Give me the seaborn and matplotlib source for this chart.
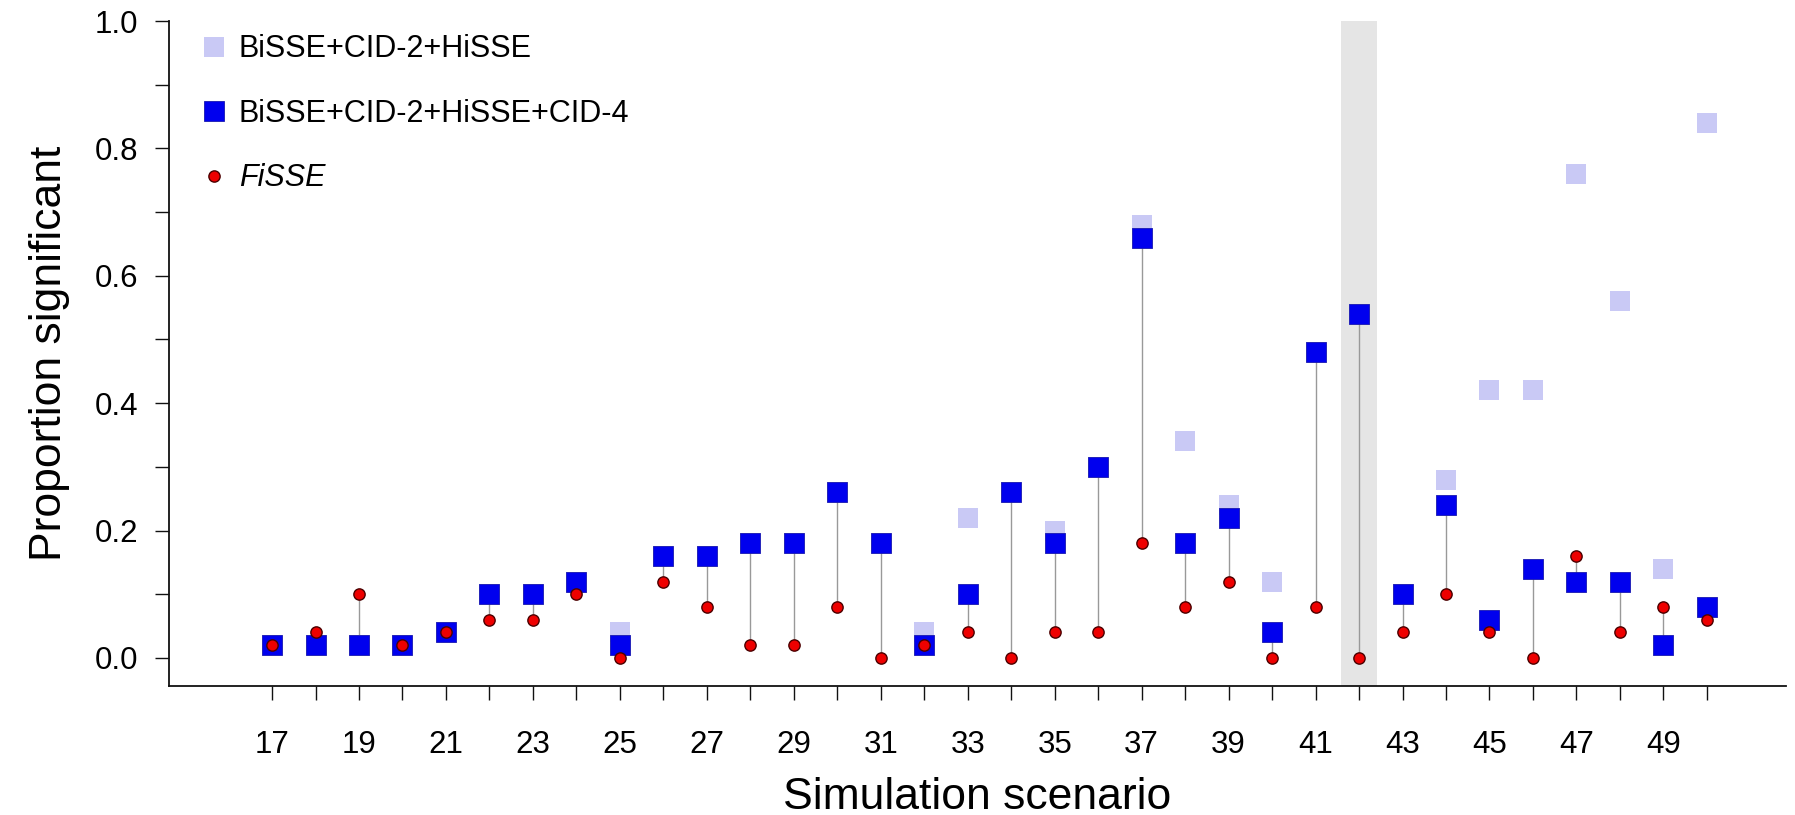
import numpy as np
import pandas as pd
import matplotlib
matplotlib.use("Agg")
import matplotlib.pyplot as plt
from matplotlib.lines import Line2D
import seaborn as sns

# proportion of simulations with a significant result, scenarios 17-50
scenarios = list(range(17, 51))
hisse = [0.02, 0.02, 0.02, 0.02, 0.04, 0.10, 0.10, 0.12, 0.04, 0.16, 0.16, 0.18,
         0.18, 0.26, 0.18, 0.04, 0.22, 0.26, 0.20, 0.30, 0.68, 0.34, 0.24, 0.12,
         0.48, 0.54, 0.10, 0.28, 0.42, 0.42, 0.76, 0.56, 0.14, 0.84]
hisse_cid4 = [0.02, 0.02, 0.02, 0.02, 0.04, 0.10, 0.10, 0.12, 0.02, 0.16, 0.16, 0.18,
              0.18, 0.26, 0.18, 0.02, 0.10, 0.26, 0.18, 0.30, 0.66, 0.18, 0.22, 0.04,
              0.48, 0.54, 0.10, 0.24, 0.06, 0.14, 0.12, 0.12, 0.02, 0.08]
fisse = [0.02, 0.04, 0.10, 0.02, 0.04, 0.06, 0.06, 0.10, 0.00, 0.12, 0.08, 0.02,
         0.02, 0.08, 0.00, 0.02, 0.04, 0.00, 0.04, 0.04, 0.18, 0.08, 0.12, 0.00,
         0.08, 0.00, 0.04, 0.10, 0.04, 0.00, 0.16, 0.04, 0.08, 0.06]
highlight = 42
labels = ["BiSSE+CID-2+HiSSE", "BiSSE+CID-2+HiSSE+CID-4", "FiSSE"]

df = pd.DataFrame({"scenario": scenarios, "hisse": hisse,
                   "cid4": hisse_cid4, "fisse": fisse})

sns.set_style("ticks")
plt.rcParams["font.family"] = ["Liberation Sans", "DejaVu Sans"]
plt.rcParams["text.color"] = "black"
plt.rcParams["axes.labelcolor"] = "black"
plt.rcParams["xtick.color"] = "black"
plt.rcParams["ytick.color"] = "black"

light = "#c9c9f5"
blue = "#0000ee"
red = "#ee0000"

fig = plt.figure(figsize=(17.95, 8.15), dpi=100)
ax = fig.add_axes([169 / 1795, 129 / 815, 1617 / 1795, 665 / 815])

ax.axvspan(highlight - 0.42, highlight + 0.42, color="#e5e5e5", lw=0, zorder=0)
ax.vlines(df["scenario"], df["fisse"], df["cid4"], color="#999999", lw=1.0, zorder=1)

sns.scatterplot(data=df, x="scenario", y="hisse", ax=ax, marker="s", s=210,
                color=light, linewidth=0, zorder=2, legend=False)
sns.scatterplot(data=df, x="scenario", y="cid4", ax=ax, marker="s", s=210,
                color=blue, edgecolor="#1818b0", linewidth=0.6, zorder=3, legend=False)
sns.scatterplot(data=df, x="scenario", y="fisse", ax=ax, marker="o", s=66,
                color=red, edgecolor="#4a0000", linewidth=1.0, zorder=4, legend=False)

ax.set_xlim(14.63, 51.82)
ax.set_ylim(-0.044, 1.0)

ax.set_xticks(scenarios)
ax.set_xticklabels([str(s) if s % 2 == 1 else "" for s in scenarios])
yt = np.round(np.arange(0, 1.01, 0.1), 1)
ax.set_yticks(yt)
ax.set_yticklabels([f"{v:.1f}" if round(v * 10) % 2 == 0 else "" for v in yt])

ax.tick_params(axis="x", length=10, width=1.0, pad=22, labelsize=22.5, color="#111111")
ax.tick_params(axis="y", length=10, width=1.0, pad=12, labelsize=22.5, color="#111111")
for sp in ["top", "right"]:
    ax.spines[sp].set_visible(False)
for sp in ["left", "bottom"]:
    ax.spines[sp].set_linewidth(1.3)
    ax.spines[sp].set_color("#111111")

ax.set_xlabel("Simulation scenario", fontsize=32, labelpad=12)
ax.set_ylabel("Proportion significant", fontsize=32, labelpad=18)

handles = [
    Line2D([], [], ls="", marker="s", markersize=14.4, markerfacecolor=light,
           markeredgewidth=0),
    Line2D([], [], ls="", marker="s", markersize=14.4, markerfacecolor=blue,
           markeredgecolor="#1818b0", markeredgewidth=0.6),
    Line2D([], [], ls="", marker="o", markersize=8.1, markerfacecolor=red,
           markeredgecolor="#4a0000", markeredgewidth=1.0),
]
leg = ax.legend(handles, labels, loc="upper left", bbox_to_anchor=(0.0186, 0.98),
                frameon=False, fontsize=22, handlelength=1.0, handletextpad=0.3,
                labelspacing=1.13, borderaxespad=0, borderpad=0)
leg.get_texts()[2].set_style("italic")

fig.savefig("out.png", dpi=100)
